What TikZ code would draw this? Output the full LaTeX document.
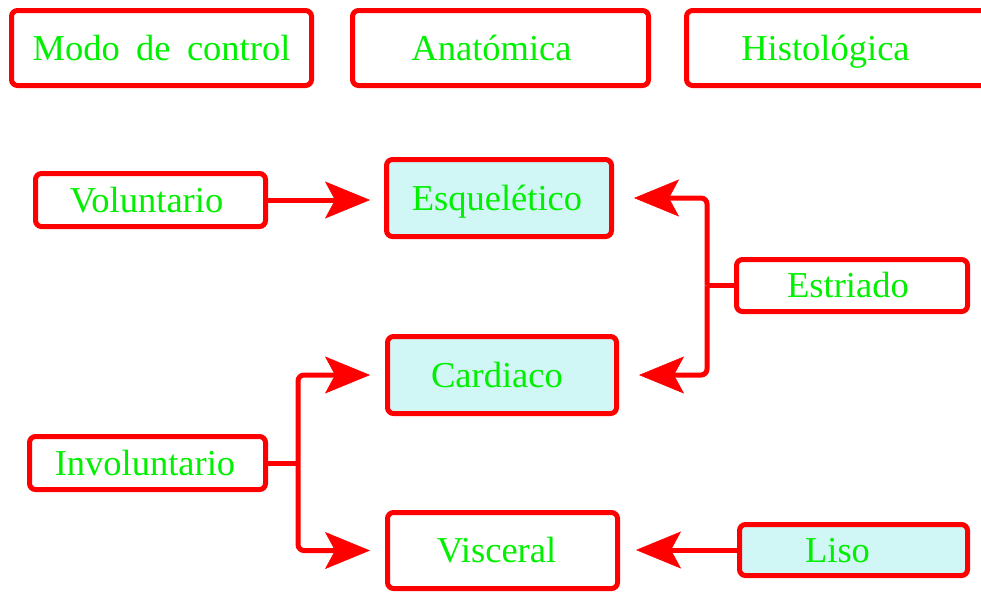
\documentclass[tikz,border=0pt]{standalone}
\usepackage{fontspec}
\setmainfont{Liberation Serif}
\usetikzlibrary{arrows.meta}
\definecolor{boxred}{RGB}{255,0,0}
\definecolor{txtgreen}{RGB}{0,240,0}
\definecolor{dotfill}{RGB}{208,246,246}
\newcommand{\lsh}[2]{#2\hspace*{#1}}
\tikzset{
  box/.style={draw=boxred, line width=5pt, rounded corners=6pt, text=txtgreen,
    font=\fontsize{36.5}{40}\selectfont, inner sep=0pt, anchor=center,
    text height=24pt, text depth=0pt},
  filledbox/.style={box, fill=dotfill},
  conn/.style={draw=boxred, line width=5pt, rounded corners=6pt},
  arr/.style={conn, -{Stealth[length=45pt,width=37pt,inset=10pt,line width=0.5pt]}}
}
\begin{document}
\begin{tikzpicture}[x=1pt,y=-1pt]
\useasboundingbox (0,0) rectangle (981,592);
% header boxes
\node[box, minimum width=300pt, minimum height=75pt] (modo) at (161.5,48) {Modo\hspace{0.45em}de\hspace{0.45em}control};
\node[box, minimum width=296pt, minimum height=75pt] (anat) at (500.5,48) {\lsh{18pt}{Anatómica}};
\node[box, minimum width=306pt, minimum height=75pt] (hist) at (839.5,48) {\lsh{28pt}{Histológica}};
% main boxes
\node[box, minimum width=230pt, minimum height=53pt] (vol) at (150.5,200) {\lsh{8pt}{Voluntario}};
\node[filledbox, minimum width=225pt, minimum height=77pt] (esq) at (499,198) {\lsh{4pt}{Esquelético}};
\node[box, minimum width=231pt, minimum height=52pt] (est) at (852,285.5) {\lsh{8pt}{Estriado}};
\node[filledbox, minimum width=229pt, minimum height=77pt] (card) at (502,375) {\lsh{10pt}{Cardiaco}};
\node[box, minimum width=236pt, minimum height=53pt] (invol) at (147.5,463) {\lsh{5pt}{Involuntario}};
\node[box, minimum width=230pt, minimum height=76pt] (visc) at (502.5,550.5) {\lsh{12pt}{Visceral}};
\node[filledbox, minimum width=228pt, minimum height=51pt] (liso) at (853.5,550) {\lsh{32pt}{Liso}};
% connectors
\draw[arr, shorten >=14pt] (vol.east) -- (vol.east -| esq.west);
\coordinate (j1) at (707,285.5);
\draw[conn] (est.west) -- (j1);
\draw[arr, shorten >=20pt] (j1) |- (esq.east);
\draw[arr, shorten >=20pt] (j1) |- (card.east);
\coordinate (j2) at (298,463);
\draw[conn] (invol.east) -- (j2);
\draw[arr, shorten >=15pt] (j2) |- (card.west);
\draw[arr, shorten >=15pt] (j2) |- (visc.west);
\draw[arr, shorten >=16pt] (liso.west) -- (liso.west -| visc.east);
\end{tikzpicture}
\end{document}
